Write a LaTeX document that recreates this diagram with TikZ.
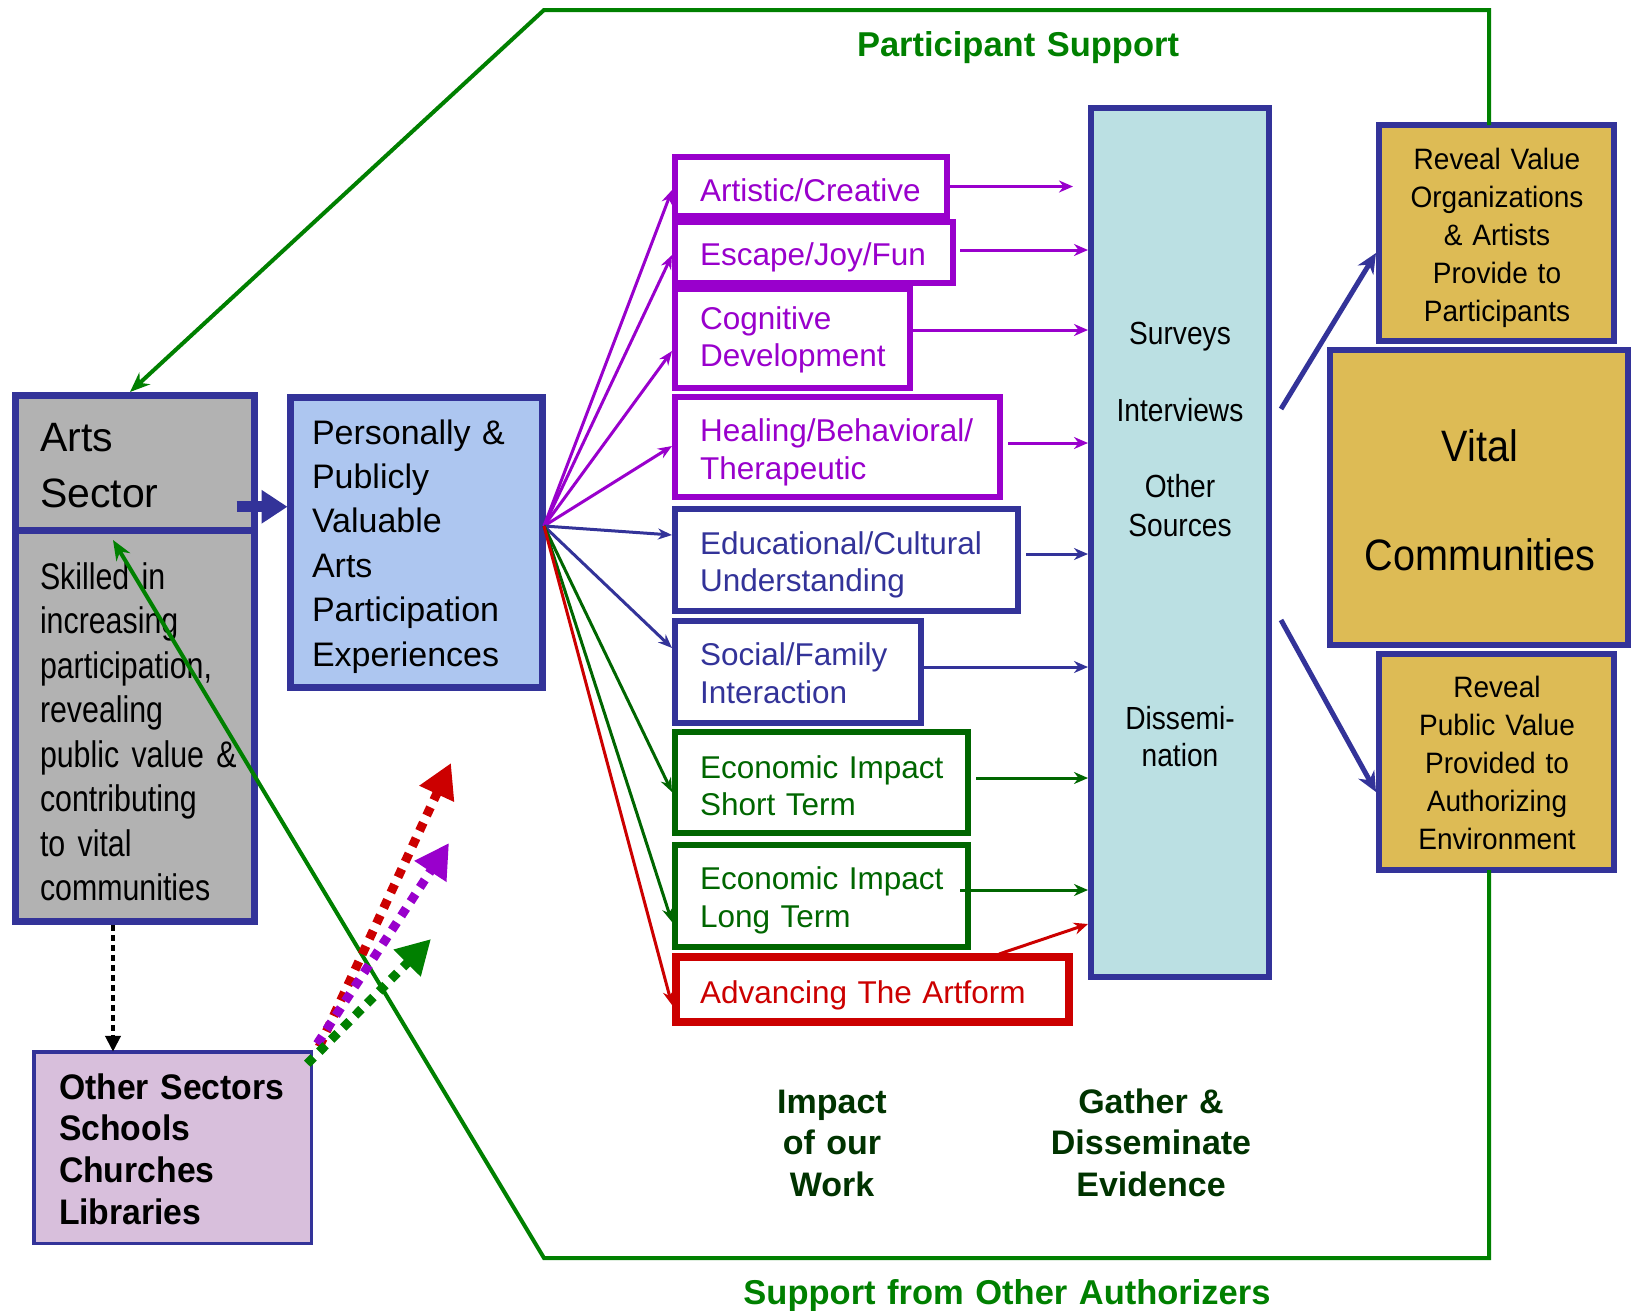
\documentclass[tikz,border=0pt]{standalone}
\usepackage{fontspec}
\setmainfont{Liberation Sans}
\newfontfamily\narrowfont[FakeStretch=0.82]{Liberation Sans}
\newfontfamily\semifont[FakeStretch=0.9]{Liberation Sans}
\newfontfamily\survfont[FakeStretch=0.88]{Liberation Sans}
\newfontfamily\midfont[FakeStretch=0.95]{Liberation Sans}
\usetikzlibrary{arrows.meta,calc}
\definecolor{navy}{RGB}{51,51,153}
\definecolor{pur}{RGB}{153,0,204}
\definecolor{egreen}{RGB}{0,102,0}
\definecolor{ogreen}{RGB}{0,128,0}
\definecolor{dkgreen}{RGB}{0,51,0}
\definecolor{rred}{RGB}{204,0,0}
\definecolor{grayfill}{RGB}{178,178,178}
\definecolor{bluefill}{RGB}{173,198,240}
\definecolor{cyanfill}{RGB}{187,224,227}
\definecolor{goldfill}{RGB}{221,187,85}
\definecolor{lavfill}{RGB}{216,191,220}
\begin{document}
\begin{tikzpicture}[x=1pt,y=-1pt,
  every node/.style={inner sep=0pt, outer sep=0pt},
  frame/.style={draw=navy, line width=7pt, anchor=north west, rectangle},
  ibox/.style={draw=#1, line width=6pt, anchor=north west, rectangle, fill=white},
  itext/.style={anchor=base west, align=left, text width=340, text=#1,
    font=\fontsize{31.5}{37.5}\selectfont},
  ltext/.style={anchor=base west, align=left, text width=240},
  ctext/.style={anchor=base, align=center, text width=280},
  fanarrow/.style={draw=#1, line width=3pt, -{Stealth[length=14pt,width=11pt]}},
  rarrow/.style={draw=#1, line width=3pt, -{Stealth[length=14pt,width=12pt]}},
  gline/.style={draw=ogreen, line width=4pt, line join=miter, -{Stealth[length=20pt,width=16pt]}},
  bluearrow/.style={draw=navy, line width=5pt, -{Stealth[length=20pt,width=18pt]}},
  thickdot/.style={draw=#1, line width=9pt, dash pattern=on 9pt off 8pt,
    -{Triangle[length=34pt,width=36pt]}},
]
\fill[white] (0,0) rectangle (1633,1310);
\useasboundingbox (0,0) rectangle (1633,1310);

% ---------- boxes ----------
\node[frame, fill=grayfill, minimum width=239, minimum height=134.5] (arts) at (15.5,395.5) {};
\node[frame, fill=grayfill, minimum width=239, minimum height=391.5] (skill) at (15.5,530) {};
\node[frame, fill=bluefill, minimum width=252, minimum height=290] (pers) at (290.5,397.5) {};
\node[ibox=pur, minimum width=272, minimum height=59] (art) at (675,157) {};
\node[ibox=pur, minimum width=278, minimum height=61] (esc) at (675,222) {};
\node[ibox=pur, minimum width=235, minimum height=99] (cog) at (675,289) {};
\node[ibox=pur, minimum width=325, minimum height=100] (heal) at (675,397) {};
\node[ibox=navy, minimum width=343, minimum height=102] (edu) at (675,509) {};
\node[ibox=navy, minimum width=246, minimum height=102] (soc) at (675,621) {};
\node[ibox=egreen, minimum width=293, minimum height=101] (ecs) at (675,732) {};
\node[ibox=egreen, minimum width=293, minimum height=102] (ecl) at (675,845) {};
\node[ibox=rred, line width=8pt, minimum width=393, minimum height=65] (adv) at (676,957) {};
\node[frame, line width=6pt, fill=cyanfill, minimum width=178, minimum height=869] (col) at (1091,108) {};
\node[frame, line width=6pt, fill=goldfill, minimum width=235, minimum height=216] (rv) at (1379,125) {};
\node[frame, line width=6pt, fill=goldfill, minimum width=298, minimum height=295] (vital) at (1330,350) {};
\node[frame, line width=6pt, fill=goldfill, minimum width=235, minimum height=216] (rpv) at (1379,654) {};
\node[frame, line width=3.5pt, fill=lavfill, minimum width=277.5, minimum height=191.5] (other) at (33.75,1051.75) {};

% ---------- texts ----------
\node[ltext, font=\fontsize{41}{56}\selectfont] (artsT) at (40,451) {Arts\\Sector};
\node[ltext, font=\narrowfont\fontsize{37}{44.5}\selectfont] (skillT) at (40,589)
  {Skilled in\\increasing\\participation,\\revealing\\public value \&\\contributing\\to vital\\communities};
\node[ltext, font=\fontsize{34}{44.4}\selectfont] (persT) at (312,444)
  {Personally \&\\Publicly\\Valuable\\Arts\\Participation\\Experiences};
\node[itext=pur] (artT) at (700,201) {Artistic/Creative};
\node[itext=pur] (escT) at (700,265.5) {Escape/Joy/Fun};
\node[itext=pur] (cogT) at (700,329) {Cognitive\\Development};
\node[itext=pur] (healT) at (700,441.5) {Healing/Behavioral/\\Therapeutic};
\node[itext=navy] (eduT) at (700,554) {Educational/Cultural\\Understanding};
\node[itext=navy] (socT) at (700,665.5) {Social/Family\\Interaction};
\node[itext=egreen] (ecsT) at (700,778) {Economic Impact\\Short Term};
\node[itext=egreen] (eclT) at (700,889.5) {Economic Impact\\Long Term};
\node[itext=rred] (advT) at (700,1003) {Advancing The Artform};

\node[ctext, text width=170, font=\survfont\fontsize{32}{39}\selectfont] (survT) at (1180,344.5) {Surveys};
\node[ctext, text width=170, font=\survfont\fontsize{32}{39}\selectfont] (intT) at (1180,421.5) {Interviews};
\node[ctext, text width=170, font=\survfont\fontsize{32}{39}\selectfont] (othT) at (1180,497.5) {Other\\Sources};
\node[ctext, text width=170, font=\survfont\fontsize{32}{37}\selectfont] (disT) at (1180,729.5) {Dissemi-\\nation};

\node[ctext, text width=230, font=\midfont\fontsize{29.5}{38.2}\selectfont] (rvT) at (1497,169)
  {Reveal Value\\Organizations\\\& Artists\\Provide to\\Participants};
\node[ctext, text width=290, font=\semifont\fontsize{44}{109}\selectfont] (vitalT) at (1480,461) {Vital\\Communities};
\node[ctext, text width=230, font=\midfont\fontsize{29.5}{38.2}\selectfont] (rpvT) at (1497,697)
  {Reveal\\Public Value\\Provided to\\Authorizing\\Environment};
\node[ltext, text width=260, font=\midfont\bfseries\fontsize{35.5}{41.7}\selectfont] (otherT) at (59,1099)
  {Other Sectors\\Schools\\Churches\\Libraries};
\node[ctext, text=dkgreen, font=\bfseries\fontsize{34}{41.5}\selectfont] (impT) at (832,1113) {Impact\\of our\\Work};
\node[ctext, text=dkgreen, font=\bfseries\fontsize{34}{41.5}\selectfont] (gathT) at (1151,1113) {Gather \&\\Disseminate\\Evidence};
\node[ctext, text width=500, text=ogreen, font=\bfseries\fontsize{34.5}{40}\selectfont] (partT) at (1018,56) {Participant Support};
\node[ctext, text width=600, text=ogreen, font=\bfseries\fontsize{34.5}{40}\selectfont] (suppT) at (1007,1304) {Support from Other Authorizers};

% ---------- arts -> personally ----------
\draw[navy, line width=11pt, -{Triangle[length=26pt,width=32pt]}]
  ($(arts.east)+(-18,44)$) -- ($(pers.west |- arts.east)+(-3,44)$);

% ---------- fan arrows ----------
\coordinate (fan) at (544,526);
\draw[fanarrow=pur] (fan) -- ($(art.west)+(-3,3.5)$);
\draw[fanarrow=pur] (fan) -- ($(esc.west)+(-3,2.5)$);
\draw[fanarrow=pur] (fan) -- ($(cog.west)+(-3,12.5)$);
\draw[fanarrow=pur] (fan) -- ($(heal.west)+(-3,-1)$);
\draw[fanarrow=navy] (fan) -- ($(edu.west)+(-3,-25)$);
\draw[fanarrow=navy] (fan) -- ($(soc.west)+(-3,-24)$);
\draw[fanarrow=egreen] (fan) -- ($(ecs.west)+(-3,9.5)$);
\draw[fanarrow=egreen] (fan) -- ($(ecl.west)+(-3,26)$);
\draw[fanarrow=rred] (fan) -- ($(adv.west)+(-4,15.5)$);

% ---------- arrows to the evidence column ----------
\coordinate (s1) at ($(art.east)+(3,0)$);
\coordinate (s2) at ($(esc.east)+(7,-2.5)$);
\coordinate (s3) at ($(cog.east)+(3,-8.5)$);
\coordinate (s4) at ($(heal.east)+(8,-4)$);
\coordinate (s5) at ($(edu.east)+(8,-6)$);
\coordinate (s6) at ($(soc.east)+(3,-5)$);
\coordinate (s7) at ($(ecs.east)+(8,-4.5)$);
\coordinate (s8) at ($(ecl.east)+(-8,-6)$);
\draw[rarrow=pur] (s1) -- ($(col.west |- s1)+(-18,0)$);
\draw[rarrow=pur] (s2) -- ($(col.west |- s2)+(-3,0)$);
\draw[rarrow=pur] (s3) -- ($(col.west |- s3)+(-3,0)$);
\draw[rarrow=pur] (s4) -- ($(col.west |- s4)+(-3,0)$);
\draw[rarrow=navy] (s5) -- ($(col.west |- s5)+(-3,0)$);
\draw[rarrow=navy] (s6) -- ($(col.west |- s6)+(-3,0)$);
\draw[rarrow=egreen] (s7) -- ($(col.west |- s7)+(-3,0)$);
\draw[rarrow=egreen] (s8) -- ($(col.west |- s8)+(-3,0)$);
\draw[rarrow=rred] ($(adv.north east)+(-70,-3)$) -- ($(col.west)+(-3,381.5)$);

% ---------- evidence -> reveal boxes ----------
\draw[bluearrow] ($(col.east)+(12,-133.5)$) -- ($(rv.west)+(-3,20)$);
\draw[bluearrow] ($(col.east)+(12,77.5)$) -- ($(rpv.west)+(-3,30)$);

% ---------- green support loop ----------
\coordinate (tr) at (1489,10);
\coordinate (tl) at (544,10);
\coordinate (br) at (1489,1258);
\coordinate (bl) at (544,1258);
\draw[gline] (rv.north -| tr) -- (tr) -- (tl) -- ($(arts.north)+(-5,-3.5)$);
\draw[gline] (rpv.south -| br) -- (br) -- (bl) -- ($(skill.north)+(-22,10)$);

% ---------- dotted arrows ----------
\coordinate (d1) at ($(skill.south)+(-22,3.5)$);
\draw[black, line width=4.5pt, dash pattern=on 6pt off 4pt, -{Triangle[length=16pt,width=15pt]}]
  (d1) -- (d1 |- other.north);
\coordinate (tipR) at (451,763);
\coordinate (tipP) at (449,843);
\coordinate (tipG) at (431,939);
\draw[thickdot=rred] ($(other.north east)+(8,-5)$) -- (tipR);
\draw[thickdot=pur] ($(other.north east)+(6,-8)$) -- (tipP);
\draw[thickdot=ogreen] ($(other.north east)+(-4,12)$) -- (tipG);
\end{tikzpicture}
\end{document}
